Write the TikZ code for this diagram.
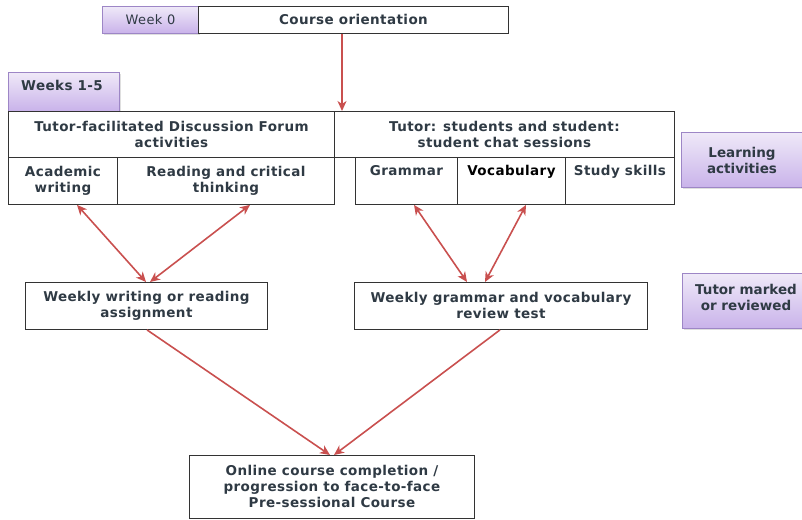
\documentclass[tikz,border=0pt]{standalone}
\usepackage{fontspec}
\setmainfont{DejaVu Sans}
\newfontfamily\spaced[LetterSpace=3]{DejaVu Sans}
\usetikzlibrary{arrows.meta,shadows}
\definecolor{txt}{HTML}{2F3A44}
\definecolor{arr}{HTML}{C9504F}
\definecolor{pupTop}{HTML}{EFE9F8}
\definecolor{pupBot}{HTML}{C9B2EA}
\definecolor{pupLine}{HTML}{9D86C6}
\tikzset{
  cell/.style={draw=black!80, line width=0.9pt, fill=white, anchor=north west, inner sep=0pt},
  tab/.style={draw=pupLine, line width=1pt, top color=pupTop, bottom color=pupBot, anchor=north west, inner sep=0pt,
    drop shadow={opacity=0.25, shadow xshift=1pt, shadow yshift=-1.5pt}},
  lbl/.style={text=txt, font=\spaced\bfseries\fontsize{13.5}{16}\selectfont, align=center, inner sep=0pt},
  sidelbl/.style={text=txt, font=\bfseries\fontsize{13.5}{16}\selectfont, align=center, inner sep=0pt},
  link/.style={draw=arr, line width=1.6pt, {Stealth[length=10pt,width=9pt,inset=3pt]}-{Stealth[length=10pt,width=9pt,inset=3pt]}},
  oneway/.style={draw=arr, line width=1.6pt, -{Stealth[length=10pt,width=9pt,inset=3pt]}}
}
\begin{document}
\begin{tikzpicture}[x=1pt,y=-1pt]
\useasboundingbox (0,0) rectangle (802,519);
% Week 0
\node[tab, minimum width=96pt, minimum height=27pt] (w0) at (102,6) {};
\node[text=txt, font=\spaced\fontsize{13}{16}\selectfont] at (w0.center) {Week 0};
\node[cell, minimum width=310pt, minimum height=27pt] (co) at (198,6) {};
\node[lbl] at (co.center) {Course orientation};
% Weeks 1-5
\node[tab, minimum width=111pt, minimum height=39pt] (w15) at (8,72) {};
\node[lbl, anchor=north west] at (21,80) {Weeks 1-5};
% top row
\node[cell, minimum width=326pt, minimum height=46pt] (forum) at (8,111) {};
\node[lbl] at (forum.center) {Tutor-facilitated Discussion Forum\\activities};
\node[cell, minimum width=340pt, minimum height=46pt] (chat) at (334,111) {};
\node[lbl] at (chat.center) {Tutor: students and student:\\student chat sessions};
% bottom left cells
\node[cell, minimum width=109pt, minimum height=47pt] (acad) at (8,157) {};
\node[lbl] at (acad.center) {Academic\\writing};
\node[cell, minimum width=217pt, minimum height=47pt] (read) at (117,157) {};
\node[lbl] at (read.center) {Reading and critical\\thinking};
% bottom right cells
\node[cell, minimum width=102pt, minimum height=47pt] (gram) at (355,157) {};
\node[lbl, anchor=north] at ([yshift=-8pt]gram.north) {Grammar};
\node[cell, minimum width=108pt, minimum height=47pt] (voc) at (457,157) {};
\node[lbl, text=black, anchor=north] at ([yshift=-8pt]voc.north) {Vocabulary};
\node[cell, minimum width=109pt, minimum height=47pt] (study) at (565,157) {};
\node[lbl, anchor=north] at ([yshift=-8pt]study.north) {Study skills};
% side labels
\node[tab, minimum width=125pt, minimum height=55pt] (la) at (681,132) {};
\node[sidelbl] at (742,160) {Learning\\activities};
\node[tab, minimum width=125pt, minimum height=55pt] (tm) at (682,273) {};
\node[sidelbl] at (746,297) {Tutor marked\\or reviewed};
% assessments
\node[cell, minimum width=242pt, minimum height=47pt] (wa) at (25,282) {};
\node[lbl] at (wa.center) {Weekly writing or reading\\assignment};
\node[cell, minimum width=293pt, minimum height=47pt] (wg) at (354,282) {};
\node[lbl] at (wg.center) {Weekly grammar and vocabulary\\review test};
% final
\node[cell, minimum width=285pt, minimum height=63pt] (fin) at (189,455) {};
\node[lbl] at (fin.center) {Online course completion /\\progression to face-to-face\\Pre-sessional Course};
% connectors
\draw[oneway] (co.south -| 342,0) -- (342,111);
\draw[link] (acad.south -| 77,0) -- (wa.north -| 146,0);
\draw[link] (read.south -| 250,0) -- (wa.north -| 150,0);
\draw[link] (gram.south -| 414,0) -- (wg.north -| 467,0);
\draw[link] (voc.south -| 526,0) -- (wg.north -| 485,0);
\draw[oneway] (wa.south -| 147,0) -- (fin.north -| 330,0);
\draw[oneway] (wg.south -| 500,0) -- (fin.north -| 334,0);
\end{tikzpicture}
\end{document}
